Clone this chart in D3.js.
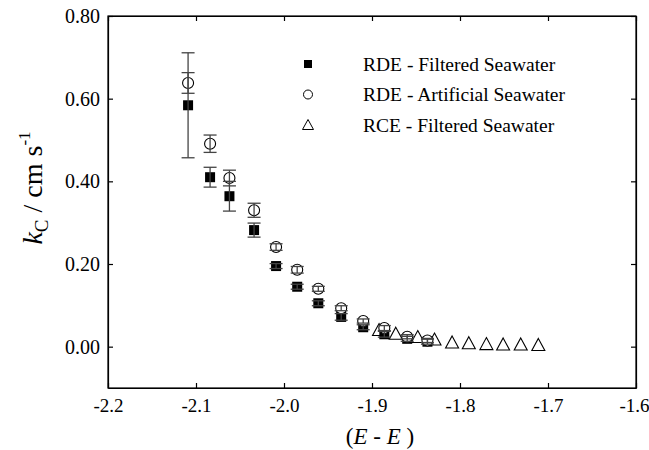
<!DOCTYPE html>
<html>
<head>
<meta charset="utf-8">
<script src="https://cdn.jsdelivr.net/npm/d3@7"></script>
<style>
  body { margin: 0; background: #fff; }
  svg text { font-family: "Times New Roman", Times, "Liberation Serif", "DejaVu Serif", serif !important; }
</style>
</head>
<body>
<div id="chart"></div>
<script>
// potential values (shared by both RDE series)
var rdeX = [-2.109, -2.084, -2.062, -2.034, -2.009, -1.985, -1.961, -1.935, -1.910, -1.886, -1.860, -1.837];

// RDE - filtered seawater
var filteredY   = [0.584, 0.410, 0.364, 0.282, 0.195, 0.145, 0.105, 0.072, 0.047, 0.030, 0.019, 0.012];
var filteredErr = [0.127, 0.024, 0.036, 0.017, 0.006, 0.006, 0.006, 0.008, 0.006, 0.007, 0.006, 0.006];

// RDE - artificial seawater
var artificialY   = [0.638, 0.491, 0.408, 0.330, 0.241, 0.186, 0.140, 0.093, 0.062, 0.045, 0.024, 0.015];
var artificialErr = [0.025, 0.021, 0.019, 0.017, 0.008, 0.008, 0.006, 0.006, 0.005, 0.006, 0.005, 0.005];

// RCE - filtered seawater
var rceX = [-1.892, -1.873, -1.848, -1.829, -1.809, -1.790, -1.770, -1.751, -1.731, -1.711];
var rceY = [0.039, 0.030, 0.022, 0.016, 0.009, 0.007, 0.005, 0.004, 0.004, 0.003];

var xTicks = [-2.2, -2.1, -2.0, -1.9, -1.8, -1.7, -1.6];
var yTicks = [0.0, 0.2, 0.4, 0.6, 0.8];
var legendNames = ["RDE - Filtered Seawater", "RDE - Artificial Seawater", "RCE - Filtered Seawater"];

var width = 649, height = 450;
var margin = {top: 16, right: 13, bottom: 62, left: 108};

var svg = d3.select("#chart").append("svg")
    .attr("width", width)
    .attr("height", height);

var x = d3.scaleLinear().domain([-2.2, -1.6]).range([margin.left, width - margin.right]);
var y = d3.scaleLinear().domain([-0.1, 0.8]).range([height - margin.bottom, margin.top]);

var tickLen = 5;
// plain hyphen instead of the unicode minus
function fmt(f) { return function(d) { return d3.format(f)(d).replace("\u2212", "-"); }; }

// axes (ticks inside, mirrored on top and right)
svg.append("g")
    .attr("class", "xaxis")
    .attr("transform", "translate(0," + y(-0.1) + ")")
    .call(d3.axisBottom(x).tickValues(xTicks).tickSizeInner(-tickLen).tickSizeOuter(0).tickPadding(11)
        .tickFormat(fmt(".1f")));
svg.append("g")
    .attr("transform", "translate(0," + y(0.8) + ")")
    .call(d3.axisTop(x).tickValues(xTicks).tickSizeInner(-tickLen).tickSizeOuter(0).tickFormat(""));
svg.append("g")
    .attr("transform", "translate(" + x(-2.2) + ",0)")
    .call(d3.axisLeft(y).tickValues(yTicks).tickSizeInner(-tickLen).tickSizeOuter(0).tickPadding(8)
        .tickFormat(fmt(".2f")));
svg.append("g")
    .attr("transform", "translate(" + x(-1.6) + ",0)")
    .call(d3.axisRight(y).tickValues(yTicks).tickSizeInner(-tickLen).tickSizeOuter(0).tickFormat(""));

svg.selectAll("g").attr("font-family", null);
svg.selectAll(".tick text").style("font-size", "20px");
svg.selectAll(".xaxis .tick text").style("font-size", "19px");
// keep the last label inside the picture
svg.selectAll(".xaxis .tick text").filter(function(d) { return d === -1.6; }).attr("dx", -2);
svg.selectAll(".domain, .tick line").attr("stroke", "#000").attr("stroke-width", 1.2);

// box frame
svg.append("rect")
    .attr("x", x(-2.2)).attr("y", y(0.8))
    .attr("width", x(-1.6) - x(-2.2)).attr("height", y(-0.1) - y(0.8))
    .attr("fill", "none").attr("stroke", "#000").attr("stroke-width", 1.2);

// marker shapes
var triPath = "M0,-7L6.5,5L-6.5,5Z";

// RCE triangles
svg.selectAll(".rce")
    .data(rceX)
    .enter().append("path")
    .attr("class", "rce")
    .attr("d", triPath)
    .attr("transform", function(d, i) { return "translate(" + x(d) + "," + y(rceY[i]) + ")"; })
    .attr("fill", "#fff").attr("stroke", "#000").attr("stroke-width", 1.1);

// filtered squares
svg.selectAll(".filt")
    .data(rdeX)
    .enter().append("rect")
    .attr("class", "filt")
    .attr("x", function(d) { return x(d) - 5; })
    .attr("y", function(d, i) { return y(filteredY[i]) - 5; })
    .attr("width", 10).attr("height", 10)
    .attr("fill", "#000");

// artificial circles
svg.selectAll(".art")
    .data(rdeX)
    .enter().append("circle")
    .attr("class", "art")
    .attr("cx", function(d) { return x(d); })
    .attr("cy", function(d, i) { return y(artificialY[i]); })
    .attr("r", 5.5)
    .attr("fill", "#fff").attr("stroke", "#000").attr("stroke-width", 1.1);

// error bars
function errorBars(vals, errs) {
    var g = svg.append("g").attr("stroke", "#444").attr("stroke-width", 1.3);
    rdeX.forEach(function(d, i) {
        var cx = x(d), lo = y(vals[i] - errs[i]), hi = y(vals[i] + errs[i]);
        g.append("line").attr("x1", cx).attr("x2", cx).attr("y1", lo).attr("y2", hi);
        g.append("line").attr("x1", cx - 6.5).attr("x2", cx + 6.5).attr("y1", lo).attr("y2", lo);
        g.append("line").attr("x1", cx - 6.5).attr("x2", cx + 6.5).attr("y1", hi).attr("y2", hi);
    });
}
errorBars(filteredY, filteredErr);
errorBars(artificialY, artificialErr);

// legend
var legend = svg.append("g");
legendNames.forEach(function(name, i) {
    var ly = 64 + i * 30.5;
    if (i === 0) {
        legend.append("rect").attr("x", 304).attr("y", ly - 4).attr("width", 8).attr("height", 8).attr("fill", "#000");
    } else if (i === 1) {
        legend.append("circle").attr("cx", 308).attr("cy", ly).attr("r", 4.5)
            .attr("fill", "#fff").attr("stroke", "#000").attr("stroke-width", 1);
    } else {
        legend.append("path").attr("d", "M0,-5.5L5.5,4.5L-5.5,4.5Z").attr("transform", "translate(308," + ly + ")")
            .attr("fill", "#fff").attr("stroke", "#000").attr("stroke-width", 1);
    }
    legend.append("text")
        .attr("x", 363).attr("y", ly + 6.5)
        .style("font-size", "19.5px")
        .text(name);
});

// y axis title
var yt = svg.append("text")
    .attr("transform", "translate(42,188) rotate(-90)")
    .attr("text-anchor", "middle")
    .style("font-size", "28px");
yt.append("tspan").style("font-style", "italic").text("k");
yt.append("tspan").attr("dy", 6).style("font-size", "19px").text("C");
yt.append("tspan").attr("dy", -6).text(" / cm s");
yt.append("tspan").attr("dy", -12).style("font-size", "17px").text("-1");

// x axis title
var xt = svg.append("text")
    .attr("x", 380).attr("y", 444)
    .attr("text-anchor", "middle")
    .style("font-size", "23px");
xt.append("tspan").text("(");
xt.append("tspan").style("font-style", "italic").text("E");
xt.append("tspan").text(" - ");
xt.append("tspan").style("font-style", "italic").text("E");
xt.append("tspan").text(" )");
</script>
</body>
</html>
